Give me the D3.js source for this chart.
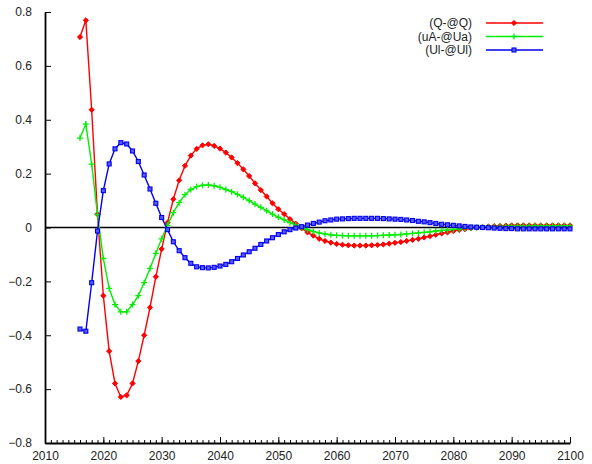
<!DOCTYPE html>
<html>
<head>
<meta charset="utf-8">
<script src="https://cdn.jsdelivr.net/npm/d3@7"></script>
<style>
  body { margin: 0; background: #fff; }
  svg { display: block; font-family: "Liberation Sans", Arial, sans-serif; }
</style>
</head>
<body>
<div id="chart"></div>
<script>
// series names
const seriesNames = ['(Q-@Q)', '(uA-@Ua)', '(Ul-@Ul)'];

// years 2016..2100
const years = d3.range(2016, 2101);

// (Q-@Q)
const qValues = [
  0.707, 0.769, 0.437, 0.049, -0.253, -0.459, -0.579, -0.629, -0.623, -0.579,
  -0.496, -0.400, -0.297, -0.183, -0.080, 0.018, 0.105, 0.175, 0.229, 0.267,
  0.292, 0.305, 0.309, 0.303, 0.293, 0.278, 0.260, 0.239, 0.216, 0.191,
  0.164, 0.139, 0.115, 0.090, 0.068, 0.050, 0.031, 0.014, -0.003, -0.018,
  -0.030, -0.042, -0.050, -0.056, -0.061, -0.064, -0.066, -0.067, -0.067, -0.067,
  -0.066, -0.065, -0.063, -0.060, -0.057, -0.054, -0.050, -0.046, -0.042, -0.037,
  -0.032, -0.027, -0.022, -0.018, -0.013, -0.009, -0.006, -0.003, 0.000, 0.002,
  0.004, 0.005, 0.006, 0.007, 0.008, 0.008, 0.008, 0.008, 0.008, 0.008,
  0.008, 0.008, 0.008, 0.008, 0.008
];

// (uA-@Ua)
const uaValues = [
  0.332, 0.384, 0.235, 0.048, -0.115, -0.226, -0.286, -0.313, -0.313, -0.286,
  -0.253, -0.205, -0.152, -0.096, -0.042, 0.008, 0.055, 0.092, 0.122, 0.141,
  0.152, 0.157, 0.158, 0.155, 0.149, 0.141, 0.133, 0.123, 0.112, 0.100,
  0.087, 0.075, 0.062, 0.050, 0.038, 0.028, 0.018, 0.009, 0.000, -0.008,
  -0.015, -0.020, -0.024, -0.027, -0.029, -0.030, -0.031, -0.031, -0.031, -0.031,
  -0.031, -0.030, -0.029, -0.028, -0.027, -0.026, -0.024, -0.022, -0.020, -0.018,
  -0.016, -0.013, -0.011, -0.009, -0.007, -0.005, -0.003, -0.002, 0.000, 0.001,
  0.002, 0.003, 0.004, 0.004, 0.005, 0.005, 0.005, 0.005, 0.006, 0.006,
  0.006, 0.006, 0.006, 0.006, 0.006
];

// (Ul-@Ul)
const ulValues = [
  -0.377, -0.385, -0.205, -0.013, 0.137, 0.236, 0.292, 0.315, 0.310, 0.284,
  0.245, 0.195, 0.143, 0.090, 0.037, -0.008, -0.053, -0.086, -0.112, -0.133,
  -0.146, -0.149, -0.150, -0.148, -0.143, -0.137, -0.127, -0.115, -0.102, -0.090,
  -0.077, -0.063, -0.050, -0.038, -0.026, -0.016, -0.008, -0.002, 0.003, 0.009,
  0.015, 0.020, 0.025, 0.028, 0.031, 0.032, 0.033, 0.034, 0.034, 0.034,
  0.034, 0.034, 0.033, 0.032, 0.031, 0.030, 0.028, 0.026, 0.023, 0.021,
  0.018, 0.015, 0.012, 0.010, 0.008, 0.006, 0.004, 0.002, 0.001, 0.000,
  -0.001, -0.002, -0.003, -0.004, -0.004, -0.005, -0.005, -0.005, -0.005, -0.005,
  -0.005, -0.005, -0.005, -0.005, -0.005
];

const xTicks = d3.range(2010, 2101, 10);
const yTicks = [-0.8, -0.6, -0.4, -0.2, 0, 0.2, 0.4, 0.6, 0.8];

const colors = ['#ff0000', '#00ee00', '#0000ee'];

const width = 592, height = 464;
const plotLeft = 45, plotRight = 570, plotTop = 12, plotBottom = 443;

const svg = d3.select('#chart').append('svg')
  .attr('width', width)
  .attr('height', height);

const x = d3.scaleLinear().domain([2010, 2100]).range([plotLeft, plotRight]);
const y = d3.scaleLinear().domain([-0.8, 0.8]).range([plotBottom, plotTop]);

// zero line
svg.append('line')
  .attr('x1', plotLeft).attr('x2', plotRight)
  .attr('y1', y(0)).attr('y2', y(0))
  .attr('stroke', '#000').attr('stroke-width', 1.3);

// x axis: minor ticks every year, major every 10
const xMinor = svg.append('g').attr('transform', 'translate(0,' + plotBottom + ')')
  .call(d3.axisTop(x).tickValues(d3.range(2010, 2101, 1)).tickSize(3).tickFormat(''));
xMinor.select('.domain').remove();
xMinor.selectAll('line').attr('stroke', '#000');

const xAxis = svg.append('g').attr('transform', 'translate(0,' + plotBottom + ')')
  .call(d3.axisTop(x).tickValues(xTicks).tickSize(6).tickSizeOuter(0).tickFormat(d3.format('d')));
xAxis.select('.domain').attr('stroke-width', 1.8);
xAxis.selectAll('text')
  .attr('y', 13).attr('dy', '0.35em')
  .attr('font-size', 12).attr('fill', '#222')
  .attr('font-family', '"Liberation Sans", Arial, sans-serif');

// y axis
const yAxis = svg.append('g').attr('transform', 'translate(' + plotLeft + ',0)')
  .call(d3.axisRight(y).tickValues(yTicks).tickSize(6).tickSizeOuter(0)
    .tickFormat(d => d === 0 ? '0' : d3.format('.1f')(d)));
yAxis.select('.domain').attr('stroke-width', 1.8);
yAxis.selectAll('text')
  .attr('x', -13).attr('text-anchor', 'end')
  .attr('font-size', 12).attr('fill', '#222')
  .attr('font-family', '"Liberation Sans", Arial, sans-serif');

// markers
function drawMarker(g, kind, cx, cy, color) {
  if (kind === 0) {
    const r = 2.6;
    g.append('path')
      .attr('d', 'M' + cx + ',' + (cy - r) + 'L' + (cx + r) + ',' + cy + 'L' + cx + ',' + (cy + r) + 'L' + (cx - r) + ',' + cy + 'Z')
      .attr('fill', color).attr('stroke', color).attr('stroke-width', 1);
  } else if (kind === 1) {
    g.append('path')
      .attr('d', 'M' + (cx - 3) + ',' + cy + 'H' + (cx + 3) + 'M' + cx + ',' + (cy - 3) + 'V' + (cy + 3))
      .attr('stroke', color).attr('stroke-width', 1.3).attr('fill', 'none');
  } else {
    g.append('rect')
      .attr('x', cx - 2).attr('y', cy - 2).attr('width', 4).attr('height', 4)
      .attr('fill', '#5a5aff').attr('stroke', color).attr('stroke-width', 1.1);
  }
}

const allSeries = [qValues, uaValues, ulValues];
const line = d3.line().x(d => x(d[0])).y(d => y(d[1]));

allSeries.forEach((vals, i) => {
  const pts = years.map((yr, k) => [yr, vals[k]]);
  const g = svg.append('g');
  g.append('path')
    .datum(pts)
    .attr('fill', 'none')
    .attr('stroke', colors[i])
    .attr('stroke-width', 1.4)
    .attr('d', line);
  pts.forEach(p => drawMarker(g, i, x(p[0]), y(p[1]), colors[i]));
});

// legend
const legend = svg.append('g');
seriesNames.forEach((name, i) => {
  const ly = 23 + i * 13.5;
  legend.append('text')
    .attr('x', 472).attr('y', ly).attr('dy', '0.35em')
    .attr('text-anchor', 'end')
    .attr('font-size', 12).attr('fill', '#222')
    .text(name);
  legend.append('line')
    .attr('x1', 486).attr('x2', 543)
    .attr('y1', ly).attr('y2', ly)
    .attr('stroke', colors[i]).attr('stroke-width', 1.4);
  drawMarker(legend, i, 514, ly, colors[i]);
});
</script>
</body>
</html>
